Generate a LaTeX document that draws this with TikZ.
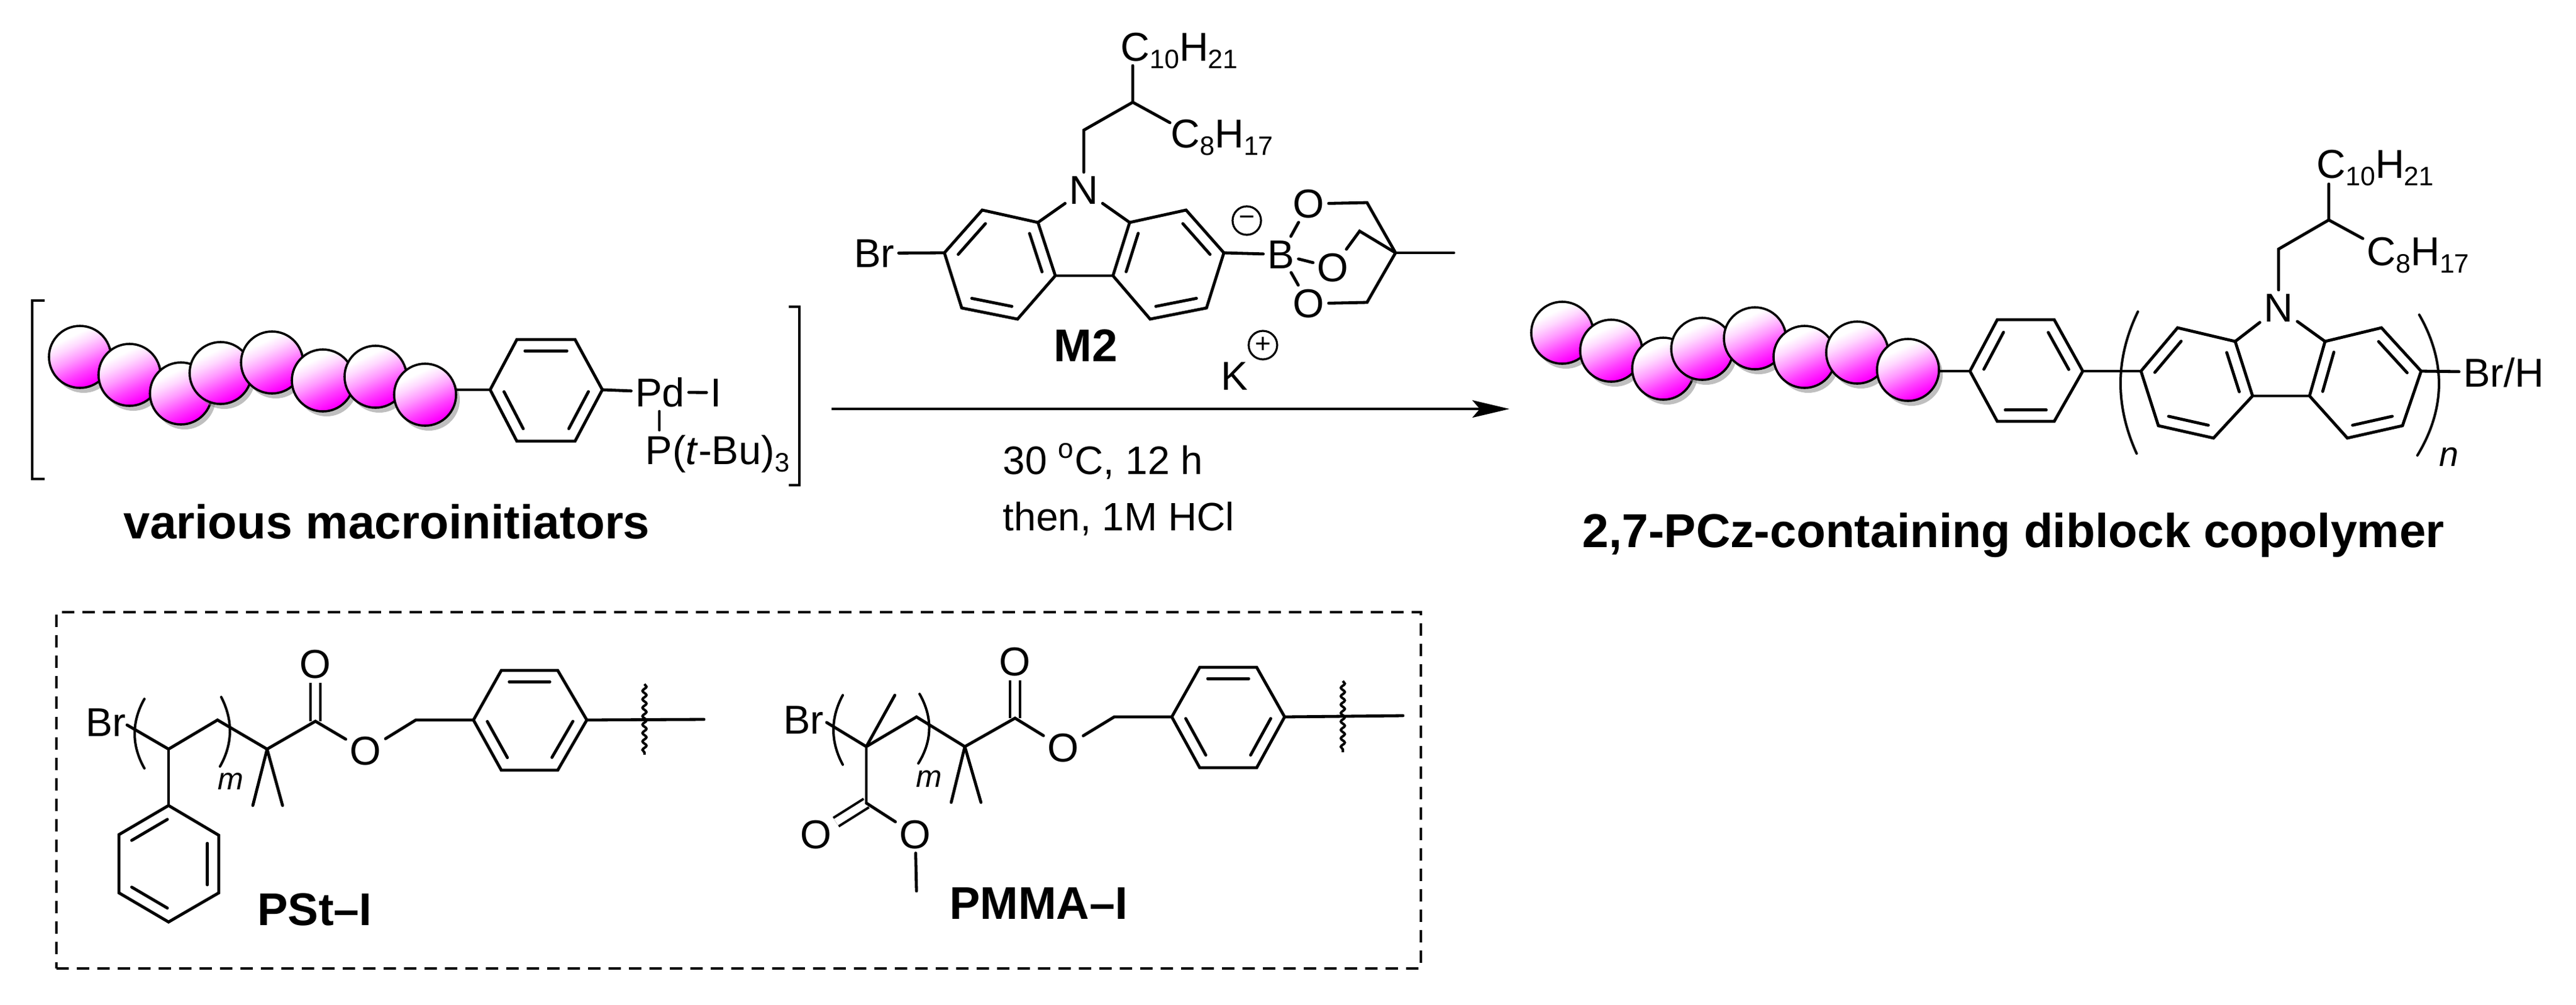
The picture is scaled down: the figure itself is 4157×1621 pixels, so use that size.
\documentclass[tikz,border=0pt]{standalone}
\usepackage{fontspec}
\setmainfont{Liberation Sans}
\usetikzlibrary{arrows.meta,calc,shadows,decorations.pathmorphing}
\newcommand{\sbs}[1]{\raisebox{-3pt}{\fontsize{10.75}{12}\selectfont #1}}
\newcommand{\inbond}[2]{\draw[bond] ($(#1)!.14!(#2)!4.6pt!90:(#2)$) -- ($(#2)!.14!(#1)!4.6pt!-90:(#1)$);}
\pgfdeclareverticalshading{ballpink}{100bp}{rgb(0bp)=(1,0,1);rgb(28bp)=(1,0,1);rgb(38bp)=(1,.25,1);rgb(50bp)=(1,.6,1);rgb(60bp)=(1,.85,1);rgb(68bp)=(1,1,1);rgb(100bp)=(1,1,1)}
\tikzset{
  bond/.style={line width=1.2pt,line join=miter,line cap=round},
  dbond/.style={line width=1pt,double,double distance=3pt},
  paren/.style={line width=1pt,line cap=round},
  wavy/.style={line width=1pt,decorate,decoration={snake,segment length=3.4pt,amplitude=.8pt}},
  atom/.style={inner sep=1.5pt,font=\fontsize{16.25}{18}\selectfont},
  cond/.style={inner sep=0pt,anchor=base west,font=\fontsize{16}{18}\selectfont},
  idx/.style={inner sep=0pt,anchor=base,font=\fontsize{12.5}{14}\selectfont\itshape},
  title/.style={inner sep=0pt,anchor=base,font=\fontsize{19.2}{22}\selectfont\bfseries},
  tag/.style={inner sep=0pt,anchor=base,font=\fontsize{18.5}{22}\selectfont\bfseries},
  chg/.style={circle,draw,line width=.8pt,minimum size=11.5pt,inner sep=0pt,font=\fontsize{11}{11}\selectfont},
  ball/.style={circle,draw,line width=.9pt,minimum size=25pt,inner sep=0pt,shade,shading=ballpink,
    shading angle=25,drop shadow={shadow xshift=1.5pt,shadow yshift=-2pt,fill=gray,opacity=.5}},
  panel/.style={draw,line width=1pt,dash pattern=on 5pt off 3.25pt,minimum width=550.5pt,minimum height=143.75pt,inner sep=0pt}
}
\begin{document}
\begin{tikzpicture}[x=.25pt,y=-.25pt]
\useasboundingbox (0,0) rectangle (4157,1621);
% macroinitiator
\foreach \i/\x/\y in {1/129/576,2/209/605,3/292/635,4/356/602,5/439/585,6/521/614,7/606/608,8/686/637}
  \node [ball] (ib\i) at (\x,\y) {};
\coordinate (ia) at (791,629);
\coordinate (ib) at (834,548);
\coordinate (ic) at (928,548);
\coordinate (id) at (972,629);
\coordinate (ie) at (928,712);
\coordinate (if) at (834,712);
\draw[bond] (ia) -- (ib) -- (ic) -- (id) -- (ie) -- (if) -- cycle;
\inbond{ic}{ib}
\inbond{ia}{if}
\inbond{ie}{id}
\draw[bond] (ib8.east |- ia) -- (ia);
\node [atom,anchor=base] at (1065,656) (pd) {Pd};
\node [atom,anchor=base] at (1156,656) (iod) {I};
\node [atom,anchor=base] at (1158,749) (ptbu) {P(\textit{t}-Bu)\sbs{3}};
\draw[bond] (id) -- (pd);
\draw[bond] (pd) -- (iod);
\coordinate (pda) at (1064,664);
\coordinate (pdb) at (1064,694);
\draw[bond] (pda) -- (pdb);
\coordinate (lbt) at (72,485);
\coordinate (lbb) at (72,773);
\coordinate (rbt) at (1273,495);
\coordinate (rbb) at (1273,783);
\draw[bond,line cap=butt] (lbt) -- ++(-20,0) |- (lbb);
\draw[bond,line cap=butt] (rbt) -- ++(17,0) |- (rbb);
\node [title] at (624,869) (macro) {various macroinitiators};
% monomer
\coordinate (c1) at (1524,408);
\coordinate (c2) at (1585,339);
\coordinate (c3) at (1675,359);
\coordinate (c4) at (1703,445);
\coordinate (c5) at (1642,515);
\coordinate (c6) at (1552,497);
\coordinate (d1) at (1975,408);
\coordinate (d2) at (1914,339);
\coordinate (d3) at (1823,359);
\coordinate (d4) at (1796,445);
\coordinate (d5) at (1856,515);
\coordinate (d6) at (1947,497);
\node [atom] at (1749,307) (nm) {N};
\node [atom,anchor=base] at (1411,431) (brm) {Br};
\node [atom,anchor=base] at (2067,433) (bor) {B};
\node [atom] at (2112,329) (oa) {O};
\node [atom] at (2151,432) (ob) {O};
\node [atom] at (2112,490) (oc) {O};
\draw[bond] (c1) -- (c2) -- (c3) -- (c4) -- (c5) -- (c6) -- cycle;
\draw[bond] (d1) -- (d2) -- (d3) -- (d4) -- (d5) -- (d6) -- cycle;
\draw[bond] (c4) -- (d4);
\inbond{c2}{c1}
\inbond{c6}{c5}
\inbond{c4}{c3}
\inbond{d3}{d4}
\inbond{d5}{d6}
\inbond{d1}{d2}
\draw[bond] (nm) -- (c3);
\draw[bond] (nm) -- (d3);
\draw[bond] (brm) -- (c1);
\draw[bond] (d1) -- (bor);
\draw[bond] (bor) -- (oa);
\draw[bond] (bor) -- (ob);
\draw[bond] (bor) -- (oc);
\coordinate (qc) at (2252,408);
\coordinate (qme) at (2346,408);
\coordinate (qa) at (2206,327);
\coordinate (qb) at (2194,373);
\coordinate (qd) at (2206,488);
\draw[bond] (oa) -- (qa) -- (qc);
\draw[bond] (ob) -- (qb) -- (qc);
\draw[bond] (oc) -- (qd) -- (qc);
\draw[bond] (qc) -- (qme);
\coordinate (ma) at (1749,210);
\coordinate (mb) at (1828,165);
\coordinate (mc) at (1828,106);
\coordinate (md) at (1888,198);
\draw[bond] (nm) -- (ma) -- (mb) -- (mc);
\draw[bond] (mb) -- (md);
\node [atom,anchor=base] at (1903,98) (mten) {C\sbs{10}H\sbs{21}};
\node [atom,anchor=base] at (1972,238) (meight) {C\sbs{8}H\sbs{17}};
\node [chg] at (2012,356) (minus) {−};
\node [chg] at (2038,557) (plus) {+};
\node [atom,anchor=base] at (1992,629) (kat) {K};
\node [tag] at (1752,583) (mtwo) {M2};
% arrow
\coordinate (arl) at (1342,660);
\coordinate (arr) at (2436,660);
\draw[line width=1pt,-{Stealth[length=15pt,width=7pt,inset=3pt]}] (arl) -- (arr);
\node [cond] at (1618,765) (temp) {30 \textsuperscript{o}C, 12 h};
\node [cond] at (1618,856) (then) {then, 1M HCl};
% product
\foreach \i/\x/\y in {1/2521/537,2/2600/566,3/2684/595,4/2747/563,5/2832/546,6/2912/576,7/2997/569,8/3079/597}
  \node [ball] (pb\i) at (\x,\y) {};
\coordinate (ra) at (3179,599);
\coordinate (rb) at (3223,516);
\coordinate (rc) at (3315,516);
\coordinate (rd) at (3361,599);
\coordinate (re) at (3315,680);
\coordinate (rf) at (3223,680);
\draw[bond] (ra) -- (rb) -- (rc) -- (rd) -- (re) -- (rf) -- cycle;
\inbond{rb}{ra}
\inbond{rd}{rc}
\inbond{rf}{re}
\draw[bond] (pb8.east |- ra) -- (ra);
\coordinate (a1) at (3455,599);
\coordinate (a2) at (3514,529);
\coordinate (a3) at (3607,551);
\coordinate (a4) at (3635,639);
\coordinate (a5) at (3572,707);
\coordinate (a6) at (3483,687);
\coordinate (b1) at (3907,599);
\coordinate (b2) at (3843,529);
\coordinate (b3) at (3752,551);
\coordinate (b4) at (3727,639);
\coordinate (b5) at (3788,707);
\coordinate (b6) at (3877,687);
\draw[bond] (rd) -- (a1);
\draw[bond] (a1) -- (a2) -- (a3) -- (a4) -- (a5) -- (a6) -- cycle;
\draw[bond] (b1) -- (b2) -- (b3) -- (b4) -- (b5) -- (b6) -- cycle;
\draw[bond] (a4) -- (b4);
\inbond{a2}{a1}
\inbond{a6}{a5}
\inbond{a4}{a3}
\inbond{b3}{b4}
\inbond{b5}{b6}
\inbond{b1}{b2}
\node [atom] at (3677,497) (np) {N};
\node [atom,anchor=base] at (4040,624) (brh) {Br/H};
\draw[bond] (np) -- (a3);
\draw[bond] (np) -- (b3);
\draw[bond] (b1) -- (brh);
\coordinate (pa) at (3677,402);
\coordinate (pc) at (3758,355);
\coordinate (pd2) at (3758,297);
\coordinate (pe) at (3813,385);
\draw[bond] (np) -- (pa) -- (pc) -- (pd2);
\draw[bond] (pc) -- (pe);
\node [atom,anchor=base] at (3833,287) (pten) {C\sbs{10}H\sbs{21}};
\node [atom,anchor=base] at (3902,428) (peight) {C\sbs{8}H\sbs{17}};
\coordinate (pl1) at (3450,503);
\coordinate (pl2) at (3448,732);
\coordinate (pr1) at (3904,508);
\coordinate (pr2) at (3901,735);
\draw[paren] (pl1) .. controls (3413,579) and (3413,655) .. (pl2);
\draw[paren] (pr1) .. controls (3947,583) and (3947,659) .. (pr2);
\node [idx,font=\fontsize{14}{16}\selectfont\itshape] at (3952,752) (nidx) {n};
\node [title] at (3249,883) (copoly) {2,7-PCz-containing diblock copolymer};
% box
\node [panel] at (1192,1275.5) (box) {};
% PSt
\node [atom,anchor=base] at (171,1188) (brs) {Br};
\node [atom] at (509,1072) (so1) {O};
\node [atom] at (590,1212) (so2) {O};
\coordinate (s0) at (205,1170);
\coordinate (s1) at (272,1209);
\coordinate (s2) at (351,1162);
\coordinate (s3) at (431,1209);
\coordinate (s4) at (509,1164);
\coordinate (s5) at (671,1162);
\coordinate (sm1) at (408,1300);
\coordinate (sm2) at (456,1300);
\coordinate (sa) at (764,1162);
\coordinate (sb) at (809,1082);
\coordinate (sc) at (900,1082);
\coordinate (sd) at (947,1162);
\coordinate (se) at (900,1243);
\coordinate (sf) at (809,1243);
\coordinate (sme) at (1136,1161);
\coordinate (sw1) at (1040,1104);
\coordinate (sw2) at (1040,1218);
\coordinate (ph1) at (272,1300);
\coordinate (ph2) at (353,1348);
\coordinate (ph3) at (353,1441);
\coordinate (ph4) at (272,1488);
\coordinate (ph5) at (192,1441);
\coordinate (ph6) at (192,1347);
\draw[dbond] (s4) -- (so1);
\draw[bond] (s0) -- (s1) -- (s2) -- (s3) -- (s4) -- (so2);
\draw[bond] (so2) -- (s5) -- (sa);
\draw[bond] (s3) -- (sm1);
\draw[bond] (s3) -- (sm2);
\draw[bond] (s1) -- (ph1);
\draw[bond] (ph1) -- (ph2) -- (ph3) -- (ph4) -- (ph5) -- (ph6) -- cycle;
\inbond{ph1}{ph6}
\inbond{ph5}{ph4}
\inbond{ph3}{ph2}
\draw[bond] (sa) -- (sb) -- (sc) -- (sd) -- (se) -- (sf) -- cycle;
\inbond{sc}{sb}
\inbond{sa}{sf}
\inbond{se}{sd}
\draw[bond] (sd) -- (sme);
\draw[wavy] (sw1) -- (sw2);
\coordinate (sl1) at (233,1128);
\coordinate (sl2) at (233,1240);
\coordinate (sr1) at (357,1125);
\coordinate (sr2) at (355,1237);
\draw[paren] (sl1) .. controls (212,1165) and (212,1203) .. (sl2);
\draw[paren] (sr1) .. controls (376,1162) and (376,1200) .. (sr2);
\node [idx] at (372,1274) (ms) {m};
\node [tag] at (508,1493) (pst) {PSt–I};
% PMMA
\node [atom,anchor=base] at (1297,1184) (brt) {Br};
\node [atom] at (1638,1068) (to1) {O};
\node [atom] at (1716,1207) (to2) {O};
\node [atom] at (1317,1347) (to3) {O};
\node [atom] at (1477,1347) (to4) {O};
\coordinate (t0) at (1334,1166);
\coordinate (t1) at (1398,1205);
\coordinate (t2) at (1479,1157);
\coordinate (t3) at (1557,1205);
\coordinate (t4) at (1638,1159);
\coordinate (t5) at (1798,1157);
\coordinate (tm1) at (1535,1295);
\coordinate (tm2) at (1583,1295);
\coordinate (tm3) at (1444,1122);
\coordinate (tc) at (1398,1296);
\coordinate (tm4) at (1479,1438);
\coordinate (ta) at (1891,1157);
\coordinate (tb) at (1936,1077);
\coordinate (tcc) at (2028,1077);
\coordinate (td) at (2073,1157);
\coordinate (te) at (2028,1239);
\coordinate (tf) at (1936,1239);
\coordinate (tme) at (2264,1155);
\coordinate (tw1) at (2167,1099);
\coordinate (tw2) at (2167,1214);
\draw[dbond] (t4) -- (to1);
\draw[dbond] (tc) -- (to3);
\draw[bond] (t0) -- (t1) -- (t2) -- (t3) -- (t4) -- (to2);
\draw[bond] (to2) -- (t5) -- (ta);
\draw[bond] (t3) -- (tm1);
\draw[bond] (t3) -- (tm2);
\draw[bond] (t1) -- (tm3);
\draw[bond] (t1) -- (tc);
\draw[bond] (tc) -- (to4);
\draw[bond] (to4) -- (tm4);
\draw[bond] (ta) -- (tb) -- (tcc) -- (td) -- (te) -- (tf) -- cycle;
\inbond{tcc}{tb}
\inbond{ta}{tf}
\inbond{te}{td}
\draw[bond] (td) -- (tme);
\draw[wavy] (tw1) -- (tw2);
\coordinate (tl1) at (1360,1122);
\coordinate (tl2) at (1360,1234);
\coordinate (tr1) at (1484,1120);
\coordinate (tr2) at (1482,1232);
\draw[paren] (tl1) .. controls (1340,1159) and (1340,1197) .. (tl2);
\draw[paren] (tr1) .. controls (1505,1157) and (1505,1195) .. (tr2);
\node [idx] at (1499,1270) (mt) {m};
\node [tag] at (1676,1483) (pmma) {PMMA–I};
\end{tikzpicture}
\end{document}
